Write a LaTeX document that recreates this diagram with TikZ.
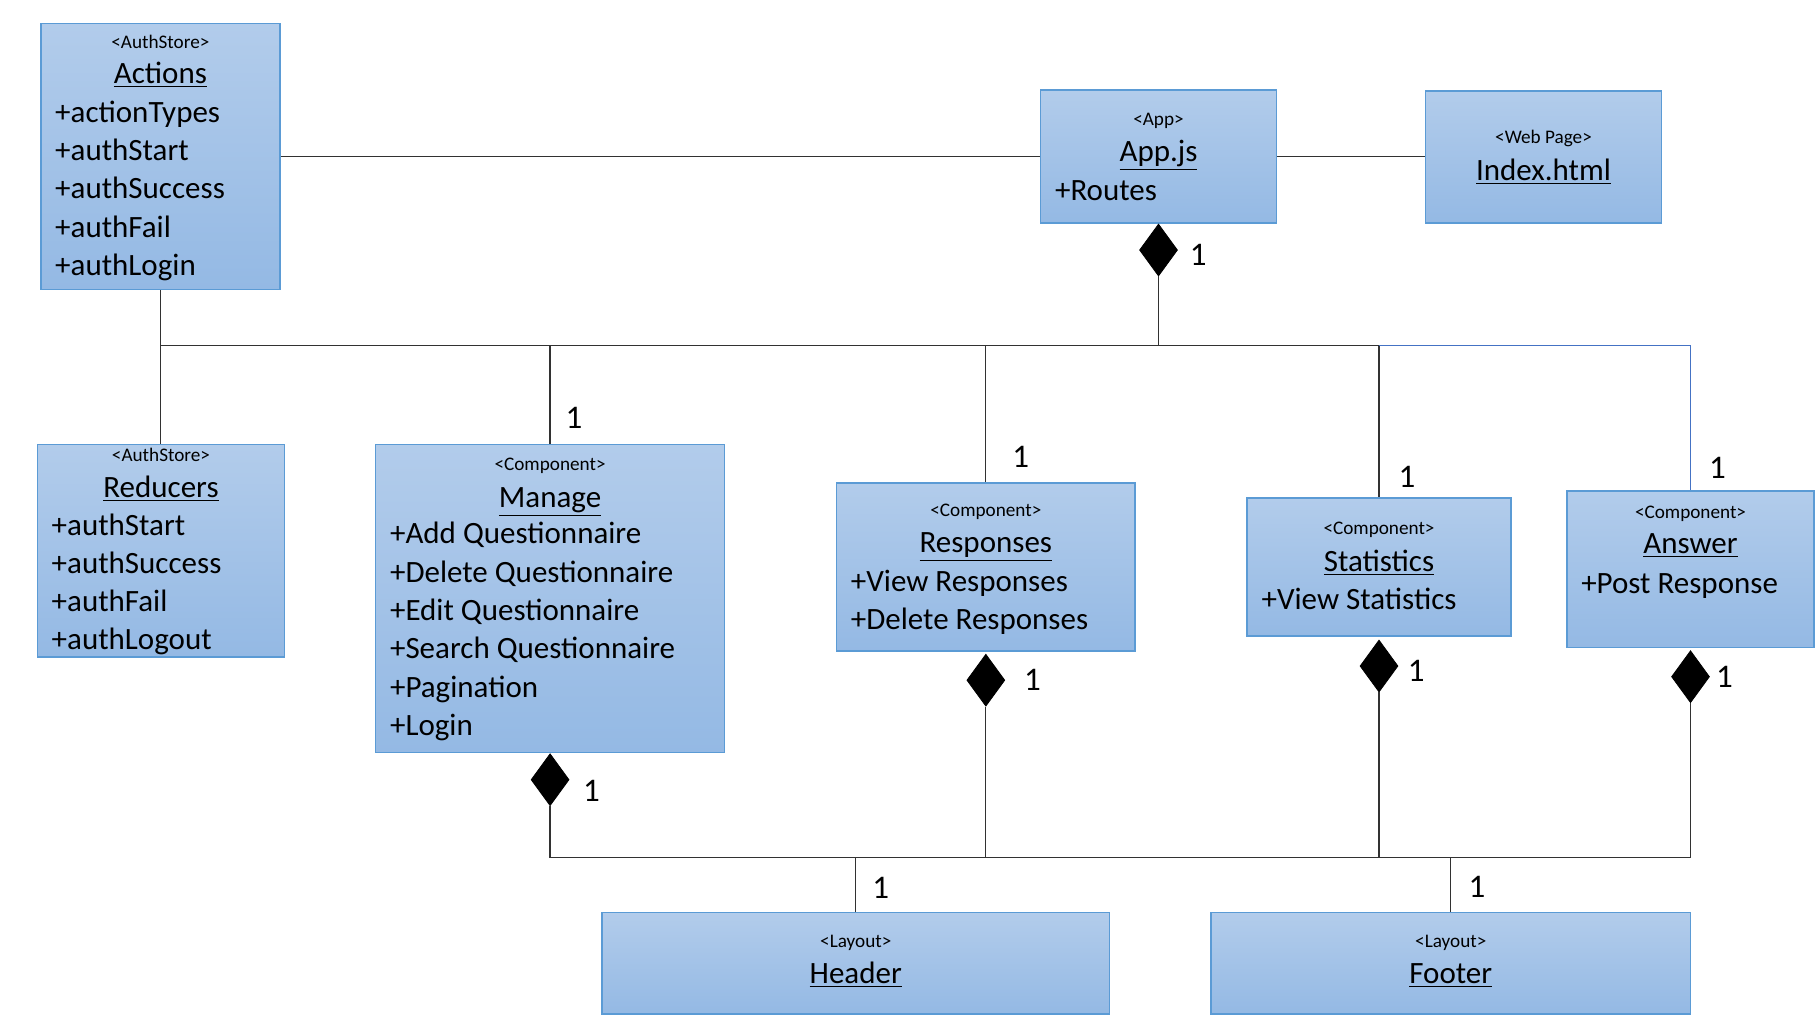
\documentclass[tikz,border=0pt]{standalone}
\usepackage{fontspec}
\setmainfont{Carlito}
\usetikzlibrary{shapes.geometric,fit}
\definecolor{boxtop}{RGB}{178,204,235}
\definecolor{boxbot}{RGB}{148,185,228}
\definecolor{boxline}{RGB}{91,155,213}
\definecolor{linegray}{RGB}{50,50,50}
\definecolor{lineblue}{RGB}{68,114,196}
\begin{document}
\begin{tikzpicture}[x=0.5833pt,y=-0.5833pt,
 box/.style={draw=boxline,line width=0.8pt,top color=boxtop,bottom color=boxbot,inner sep=0pt,rectangle},
 stereo/.style={font=\fontsize{9.6}{11}\selectfont, inner sep=0pt, text height=6.2pt, text depth=0pt},
 cname/.style={font=\fontsize{15.5}{18}\selectfont, inner sep=0pt, text height=10pt, text depth=0pt},
 item/.style={font=\fontsize{15.5}{18}\selectfont, inner sep=0pt, anchor=west, text height=10pt, text depth=0pt},
 mult/.style={font=\fontsize{16.5}{18}\selectfont, inner sep=0pt, text height=10.4pt, text depth=0pt},
 comp/.style={diamond, fill=black, draw=black, inner sep=0pt, minimum width=19pt, minimum height=26pt, anchor=north},
 conn/.style={draw=linegray, line width=0.6pt},
 connb/.style={draw=lineblue, line width=0.6pt}]
\useasboundingbox (0,0) rectangle (1560,877);

% boxes
\node[box, fit={(35,20) (240,248)}] (actions) {};
\node[box, fit={(892,77) (1094,191)}] (app) {};
\node[box, fit={(1222,78) (1424,191)}] (index) {};
\node[box, fit={(32,381) (244,563)}] (reducers) {};
\node[box, fit={(322,381) (621,645)}] (manage) {};
\node[box, fit={(717,414) (973,558)}] (responses) {};
\node[box, fit={(1069,427) (1295,545)}] (statistics) {};
\node[box, fit={(1343,421) (1555,555)}] (answer) {};
\node[box, fit={(516,782) (951,869)}] (header) {};
\node[box, fit={(1038,782) (1449,869)}] (footer) {};

% Actions
\node[stereo] (actions-st) at (137.5,36) {<AuthStore>};
\node[cname] (actions-nm) at (137.5,63) {\underline{Actions}};
\foreach \t [count=\i] in {+actionTypes,+authStart,+authSuccess,+authFail,+authLogin}
  \node[item] (actions-i\i) at (47,{96.5+32.7*(\i-1)}) {\t};

% App.js
\node[stereo] (app-st) at (993,102) {<App>};
\node[cname] (app-nm) at (993,130) {\underline{App.js}};
\node[item] (app-i1) at (904,163) {+Routes};

% Index
\node[stereo] (index-st) at (1323,118) {<Web Page>};
\node[cname] (index-nm) at (1323,146) {\underline{Index.html}};

% Reducers
\node[stereo] (reducers-st) at (138,390) {<AuthStore>};
\node[cname] (reducers-nm) at (138,418) {\underline{Reducers}};
\foreach \t [count=\i] in {+authStart,+authSuccess,+authFail,+authLogout}
  \node[item] (reducers-i\i) at (44,{450+32.8*(\i-1)}) {\t};

% Manage
\node[stereo] (manage-st) at (471.5,398) {<Component>};
\node[cname] (manage-nm) at (471.5,426) {\underline{Manage}};
\foreach \t [count=\i] in {+Add Questionnaire,+Delete Questionnaire,+Edit Questionnaire,+Search Questionnaire,+Pagination,+Login}
  \node[item] (manage-i\i) at (334,{457.5+32.9*(\i-1)}) {\t};

% Responses
\node[stereo] (responses-st) at (845,437) {<Component>};
\node[cname] (responses-nm) at (845,465) {\underline{Responses}};
\node[item] (responses-i1) at (729,498) {+View Responses};
\node[item] (responses-i2) at (729,531) {+Delete Responses};

% Statistics
\node[stereo] (statistics-st) at (1182,453) {<Component>};
\node[cname] (statistics-nm) at (1182,481) {\underline{Statistics}};
\node[item] (statistics-i1) at (1081,514) {+View Statistics};

% Answer
\node[stereo] (answer-st) at (1449,439) {<Component>};
\node[cname] (answer-nm) at (1449,466) {\underline{Answer}};
\node[item] (answer-i1) at (1355,500) {+Post Response};

% Header / Footer
\node[stereo] (header-st) at (733.5,807) {<Layout>};
\node[cname] (header-nm) at (733.5,834) {\underline{Header}};
\node[stereo] (footer-st) at (1243.5,807) {<Layout>};
\node[cname] (footer-nm) at (1243.5,834) {\underline{Footer}};

% composition diamonds
\node[comp] (dapp) at (app.south) {};
\node[comp] (dman) at (manage.south) {};
\node[comp] (dres) at ([yshift=-1pt]responses.south) {};
\node[comp] (dsta) at ([yshift=-1.5pt]statistics.south) {};
\node[comp] (dans) at ([yshift=-1pt]answer.south) {};

% bus coordinates
\coordinate (bus) at (0,296);
\coordinate (bbus) at (0,735);

% top connectors
\draw[conn] (actions.east) -- (app.west);
\draw[conn] (app.east) -- (index.west |- app.east);
\draw[conn] (actions.south) -- (reducers.north -| actions.south);
\draw[conn] (dapp.south) -- (dapp.south |- bus);
\draw[conn] (actions.south |- bus) -- (statistics.north |- bus);
\draw[conn] (manage.north |- bus) -- (manage.north);
\draw[conn] (responses.north |- bus) -- (responses.north);
\draw[conn] (statistics.north |- bus) -- (statistics.north);
\draw[connb] (statistics.north |- bus) -- (answer.north |- bus) -- (answer.north);

% bottom connectors
\draw[conn] (dman.south) -- (dman.south |- bbus) -- (dans.south |- bbus) -- (dans.south);
\draw[conn] (dres.south) -- (dres.south |- bbus);
\draw[conn] (dsta.south) -- (dsta.south |- bbus);
\draw[conn] (header.north |- bbus) -- (header.north);
\draw[conn] (footer.north |- bbus) -- (footer.north);

% multiplicities
\node[mult] (m-app) at (1027,219) {1};
\node[mult] (m-man) at (492,358) {1};
\node[mult] (m-res) at (875,392) {1};
\node[mult] (m-sta) at (1206,409) {1};
\node[mult] (m-ans) at (1472,401) {1};
\node[mult] (m-dman) at (507,678) {1};
\node[mult] (m-dres) at (885,583) {1};
\node[mult] (m-dsta) at (1214,575) {1};
\node[mult] (m-dans) at (1478,580) {1};
\node[mult] (m-head) at (755,761) {1};
\node[mult] (m-foot) at (1266,760) {1};
\end{tikzpicture}
\end{document}
